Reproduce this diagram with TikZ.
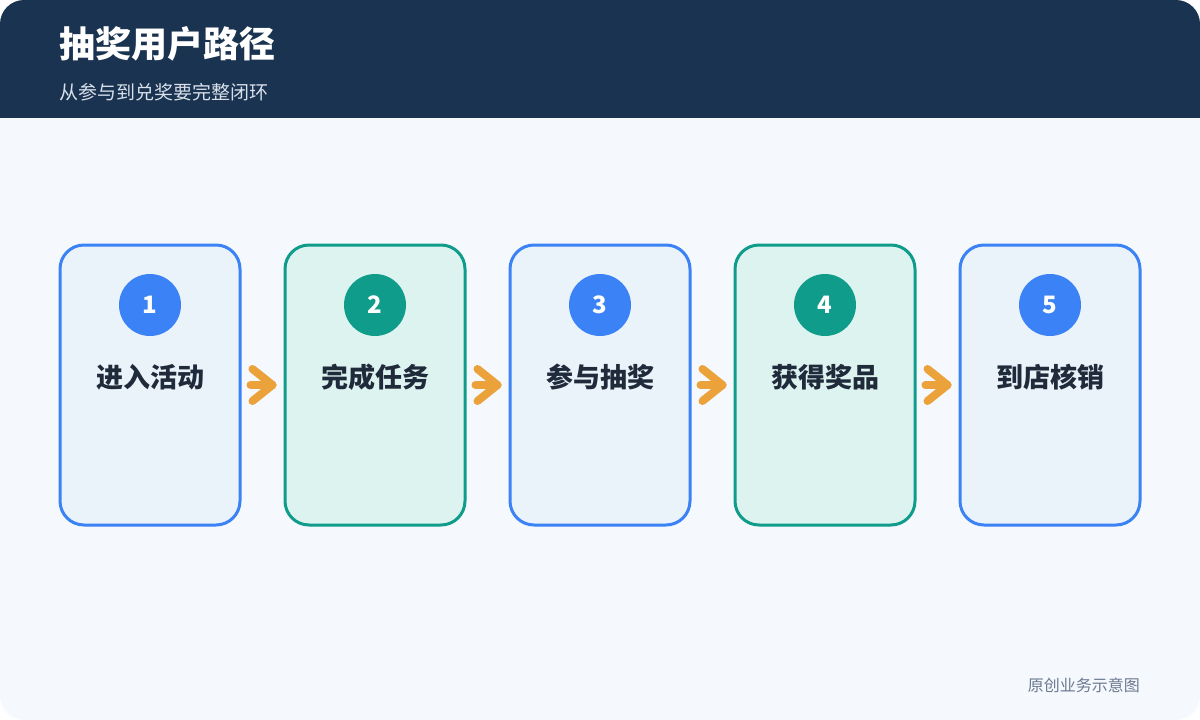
\documentclass[tikz,border=0pt]{standalone}
\usepackage{fontspec}
\setmainfont{Noto Sans CJK SC}
\usetikzlibrary{positioning}

\definecolor{pagebg}{HTML}{F5F9FE}
\definecolor{headbg}{HTML}{1A3350}
\definecolor{subgray}{HTML}{D8E0EB}
\definecolor{stblue}{HTML}{3B82F6}
\definecolor{stbluebg}{HTML}{EAF2FA}
\definecolor{stgreen}{HTML}{109C8A}
\definecolor{stgreenbg}{HTML}{DDF3EF}
\definecolor{labdark}{HTML}{1F2A3A}
\definecolor{flowcol}{HTML}{EBA23A}
\definecolor{notegray}{HTML}{6B7A8F}

\tikzset{
  stage/.style={rounded corners=24pt, line width=3pt,
    minimum width=180pt, minimum height=280pt, inner sep=0pt},
  stage blue/.style={stage, draw=stblue, fill=stbluebg},
  stage green/.style={stage, draw=stgreen, fill=stgreenbg},
  badge/.style={circle, minimum size=62pt, inner sep=0pt,
    text=white, font=\fontsize{24}{28}\selectfont\bfseries},
  badge blue/.style={badge, fill=stblue},
  badge green/.style={badge, fill=stgreen},
  stagelabel/.style={text=labdark, font=\fontsize{27}{32}\selectfont\bfseries},
  flow/.style={flowcol, line width=8pt, line cap=round, line join=round}
}

\begin{document}
\begin{tikzpicture}[x=1pt,y=-1pt]

\useasboundingbox (0,0) rectangle (1200,720);

% PAGE
  \fill[white] (0,0) rectangle (1200,720);
  \fill[pagebg, rounded corners=24pt] (0,0) rectangle (1200,720);

% HEADER
  \begin{scope}
    \clip[rounded corners=24pt] (0,0) rectangle (1200,720);
    \fill[headbg] (0,0) rectangle (1200,118);
  \end{scope}
  \node[anchor=west, inner sep=0pt, text=white,
        font=\fontsize{36}{42}\selectfont\bfseries] (title) at (59,44) {抽奖用户路径};
  \node[anchor=west, inner sep=0pt, text=subgray,
        font=\fontsize{19}{23}\selectfont] (subtitle) at (59,92) {从参与到兑奖要完整闭环};

% STAGES
  \foreach \i/\txt/\kind in {1/进入活动/blue, 2/完成任务/green, 3/参与抽奖/blue,
                             4/获得奖品/green, 5/到店核销/blue}
  {
    \node[stage \kind] (box\i) at (150+225*\i-225, 385) {};
    \node[badge \kind] (num\i) at (150+225*\i-225, 305) {\i};
    \node[stagelabel] (lab\i) at (150+225*\i-225, 377) {\txt};
  }

% ARROWS
  \foreach \i/\j in {1/2, 2/3, 3/4, 4/5}
  {
    \draw[flow] ([xshift=9pt]box\i.east) -- ([xshift=-11pt]box\j.west);
    \draw[flow] ([xshift=-31pt, yshift=16pt]box\j.west) -- ([xshift=-11pt]box\j.west)
                -- ([xshift=-31pt, yshift=-16pt]box\j.west);
  }

% NOTE
  \node[anchor=east, inner sep=0pt, text=notegray,
        font=\fontsize{16}{19}\selectfont] (note) at (1140,685) {原创业务示意图};

\end{tikzpicture}
\end{document}
